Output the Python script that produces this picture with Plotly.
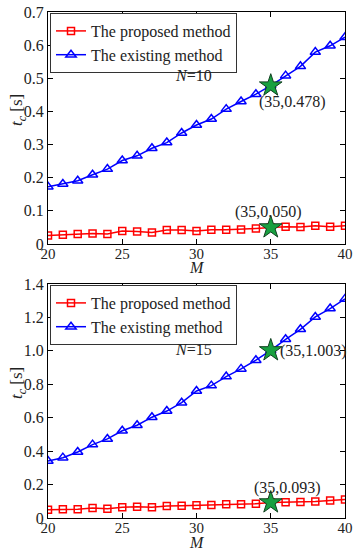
import plotly.graph_objects as go

M = list(range(20, 41))

# N = 10
proposed_10 = [0.026, 0.028, 0.030, 0.032, 0.030, 0.039, 0.038, 0.035, 0.042, 0.042,
               0.039, 0.043, 0.043, 0.044, 0.047, 0.050, 0.052, 0.051, 0.055, 0.052, 0.055]
existing_10 = [0.173, 0.181, 0.191, 0.209, 0.226, 0.252, 0.266, 0.289, 0.306, 0.335,
               0.359, 0.377, 0.407, 0.430, 0.452, 0.478, 0.508, 0.536, 0.579, 0.598, 0.624]
# N = 15
proposed_15 = [0.050, 0.052, 0.052, 0.060, 0.056, 0.064, 0.068, 0.064, 0.072, 0.074,
               0.076, 0.078, 0.082, 0.082, 0.086, 0.093, 0.094, 0.096, 0.098, 0.104, 0.110]
existing_15 = [0.341, 0.361, 0.395, 0.439, 0.473, 0.522, 0.555, 0.603, 0.640, 0.690,
               0.760, 0.792, 0.846, 0.892, 0.944, 1.003, 1.069, 1.129, 1.203, 1.253, 1.311]

x_ticks = [20, 25, 30, 35, 40]
y_ticks_top = [0, 0.1, 0.2, 0.3, 0.4, 0.5, 0.6, 0.7]
y_ticklabels_top = ["0", "0.1", "0.2", "0.3", "0.4", "0.5", "0.6", "0.7"]
y_ticks_bot = [0, 0.2, 0.4, 0.6, 0.8, 1.0, 1.2, 1.4]
y_ticklabels_bot = ["0", "0.2", "0.4", "0.6", "0.8", "1.0", "1.2", "1.4"]

highlight_M = 35
highlights_top = [0.478, 0.050]
highlights_bot = [1.003, 0.093]

FONT = "Liberation Serif"
RED = "#ff0000"
BLUE = "#0000ff"
GREEN = "#18a040"

W, H = 360, 550
def px_x(p): return p / W
def px_y(p): return 1 - p / H

fig = go.Figure()

def add_series(xa, ya, prop, exist, legend):
    fig.add_trace(go.Scatter(x=M, y=prop, mode="lines+markers", name="The proposed method",
                             line=dict(color=RED, width=1.5),
                             marker=dict(symbol="square-open", size=7, color=RED, line=dict(width=1.5)),
                             xaxis=xa, yaxis=ya, legend=legend))
    fig.add_trace(go.Scatter(x=M, y=exist, mode="lines+markers", name="The existing method",
                             line=dict(color=BLUE, width=1.5),
                             marker=dict(symbol="triangle-up-open", size=9, color=BLUE, line=dict(width=1.5)),
                             xaxis=xa, yaxis=ya, legend=legend))

add_series("x", "y", proposed_10, existing_10, "legend")
add_series("x2", "y2", proposed_15, existing_15, "legend2")

star = dict(symbol="star", size=17, color=GREEN, line=dict(color="#104020", width=1))
fig.add_trace(go.Scatter(x=[highlight_M] * 2, y=highlights_top, mode="markers", showlegend=False,
                         marker=star, xaxis="x", yaxis="y"))
fig.add_trace(go.Scatter(x=[highlight_M] * 2, y=highlights_bot, mode="markers", showlegend=False,
                         marker=star, xaxis="x2", yaxis="y2"))

axis_common = dict(showline=True, linecolor="black", linewidth=1, mirror="ticks",
                   ticks="inside", ticklen=5, tickcolor="black", showgrid=False, zeroline=False,
                   automargin=False, ticklabeloverflow="allow")
yfont = dict(tickfont=dict(family=FONT, size=16, color="#222"))
xfont = dict(tickfont=dict(family=FONT, size=15, color="#222"), ticklabelstandoff=-4)

xdom = [px_x(48), px_x(345)]
top_dom = [px_y(244), px_y(12)]
bot_dom = [px_y(518), px_y(284)]

leg_common = dict(xanchor="left", yanchor="top", bgcolor="white",
                  bordercolor="#333", borderwidth=1, font=dict(family=FONT, size=16, color="#222"),
                  tracegroupgap=0, itemwidth=30)

fig.update_layout(
    width=W, height=H, margin=dict(l=0, r=0, t=0, b=0, autoexpand=False),
    paper_bgcolor="white", plot_bgcolor="white",
    font=dict(family=FONT, size=16, color="#222"),
    xaxis=dict(domain=xdom, range=[20, 40], tickvals=x_ticks, anchor="y", **xfont, **axis_common),
    yaxis=dict(domain=top_dom, range=[0, 0.7], tickvals=y_ticks_top, ticktext=y_ticklabels_top,
               anchor="x", **yfont, **axis_common),
    xaxis2=dict(domain=xdom, range=[20, 40], tickvals=x_ticks, anchor="y2", **xfont, **axis_common),
    yaxis2=dict(domain=bot_dom, range=[0, 1.4], tickvals=y_ticks_bot, ticktext=y_ticklabels_bot,
                anchor="x2", **yfont, **axis_common),
    legend=dict(x=px_x(50), y=px_y(13), **leg_common),
    legend2=dict(x=px_x(50), y=px_y(285), **leg_common),
    showlegend=True,
)

ann = []
tf = dict(family=FONT, size=16, color="#222")
# N labels
ann.append(dict(x=28.4, y=0.507, xref="x", yref="y", text="<i>N</i>=10", showarrow=False,
                xanchor="left", yanchor="middle", font=tf))
ann.append(dict(x=28.4, y=1.011, xref="x2", yref="y2", text="<i>N</i>=15", showarrow=False,
                xanchor="left", yanchor="middle", font=tf))
# highlight labels
ann.append(dict(x=highlight_M, y=highlights_top[0], xref="x", yref="y", text="(35,0.478)",
                showarrow=False, xshift=22, yshift=-16, font=tf))
ann.append(dict(x=highlight_M, y=highlights_top[1], xref="x", yref="y", text="(35,0.050)",
                showarrow=False, xshift=-2, yshift=15, font=tf))
ann.append(dict(x=highlight_M, y=highlights_bot[0], xref="x2", yref="y2", text="(35,1.003)",
                showarrow=False, xanchor="left", xshift=7, yshift=-1, font=tf))
ann.append(dict(x=highlight_M, y=highlights_bot[1], xref="x2", yref="y2", text="(35,0.093)",
                showarrow=False, xshift=17, yshift=14, font=tf))
# axis titles
for yc, ym in [(110, 267), (383, 542)]:
    ann.append(dict(x=px_x(18), y=px_y(yc), xref="paper", yref="paper",
                    text="<i>t<sub>c</sub></i> [s]", textangle=-90, showarrow=False,
                    xanchor="center", yanchor="middle", font=dict(family=FONT, size=17, color="#222")))
    ann.append(dict(x=30, y=px_y(ym), xref="x", yref="paper", text="<i>M</i>", showarrow=False,
                    xanchor="center", yanchor="middle", font=tf))
fig.update_layout(annotations=ann)

# remove the default 8px page margin so the figure fills the window exactly
fig.write_html("out.html", config={"displayModeBar": False},
               post_script="document.body.style.margin='0';")
